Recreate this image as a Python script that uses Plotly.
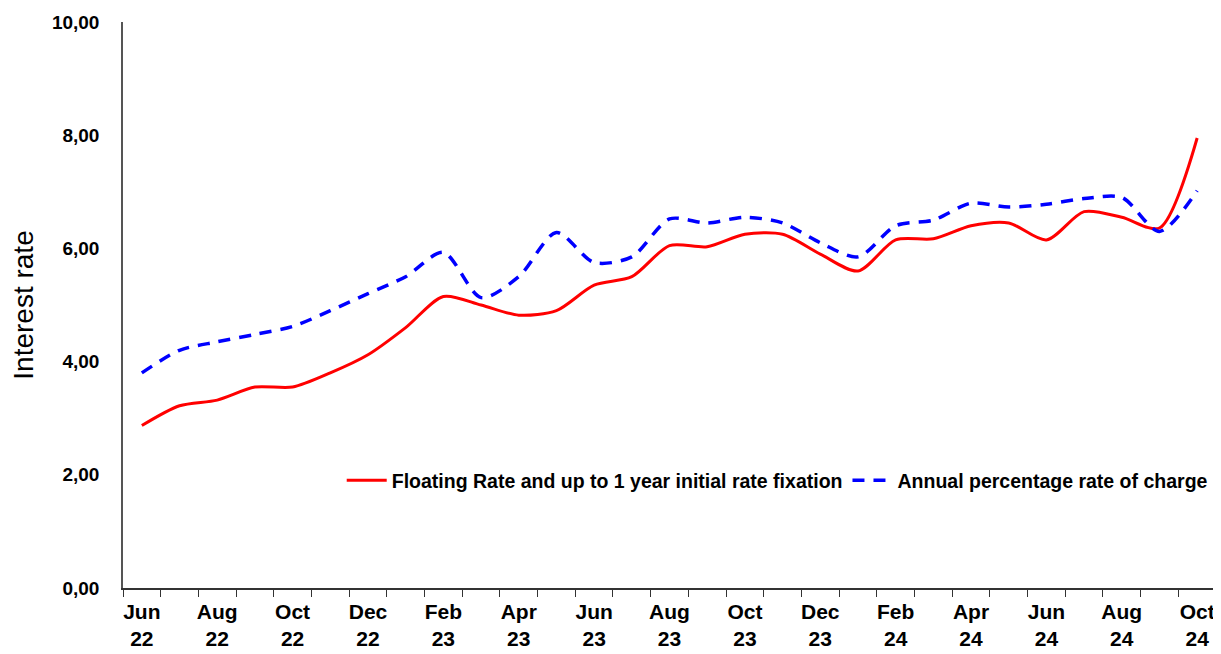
import plotly.graph_objects as go

# monthly observations, Jun 2022 - Oct 2024
months = ["Jun 22", "Jul 22", "Aug 22", "Sep 22", "Oct 22", "Nov 22", "Dec 22",
          "Jan 23", "Feb 23", "Mar 23", "Apr 23", "May 23", "Jun 23", "Jul 23",
          "Aug 23", "Sep 23", "Oct 23", "Nov 23", "Dec 23", "Jan 24", "Feb 24",
          "Mar 24", "Apr 24", "May 24", "Jun 24", "Jul 24", "Aug 24", "Sep 24",
          "Oct 24"]

floating_rate = [2.87, 3.22, 3.32, 3.55, 3.55, 3.80, 4.12, 4.60, 5.15, 5.00,
                 4.82, 4.90, 5.35, 5.50, 6.05, 6.03, 6.25, 6.25, 5.90, 5.60,
                 6.15, 6.17, 6.40, 6.45, 6.15, 6.65, 6.55, 6.36, 7.95]

apr_charge = [3.80, 4.20, 4.35, 4.48, 4.62, 4.90, 5.20, 5.50, 5.93, 5.13,
              5.50, 6.28, 5.75, 5.85, 6.52, 6.45, 6.55, 6.45, 6.10, 5.85,
              6.40, 6.50, 6.80, 6.73, 6.78, 6.88, 6.90, 6.30, 7.02]

tick_labels = [m.replace(" ", "<br>") if i % 2 == 0 else "" for i, m in enumerate(months)]

y_ticks = [0, 2, 4, 6, 8, 10]
y_tick_labels = ["0,00", "2,00", "4,00", "6,00", "8,00", "10,00"]

font = "Liberation Sans, Arial, sans-serif"

fig = go.Figure()
fig.add_trace(go.Scatter(
    x=months, y=floating_rate, mode="lines",
    name="<b>Floating Rate and up to 1 year initial rate fixation</b>",
    line=dict(color="#ff0000", width=3, shape="spline", smoothing=0.8),
))
fig.add_trace(go.Scatter(
    x=months, y=apr_charge, mode="lines",
    name="<b>Annual percentage rate of charge</b>",
    line=dict(color="#0000ff", width=3.5, dash="12px,9px", shape="spline", smoothing=0.8),
))

# page body adds an 8px margin, so the figure is sized to fit inside it
fig.update_layout(
    width=1213, height=646,
    margin=dict(l=115, r=5, t=14, b=66),
    paper_bgcolor="white", plot_bgcolor="white",
    font=dict(family=font, color="black"),
    showlegend=True,
    legend=dict(
        orientation="h", x=0.997, xanchor="right", y=0.19, yanchor="middle",
        font=dict(size=19.5, family=font), bgcolor="rgba(0,0,0,0)",
        itemwidth=40, tracegroupgap=0,
    ),
)

fig.update_xaxes(
    type="category", tickmode="array", tickvals=months, ticktext=tick_labels,
    tickson="boundaries", ticks="outside", ticklen=7, tickcolor="#333",
    showline=True, linecolor="#333", linewidth=1.5,
    showgrid=False, zeroline=False, tickangle=0, automargin=False,
    ticklabelstandoff=4,
    tickfont=dict(size=21, family=font, weight="bold"),
    range=[-0.5, len(months) - 0.5],
)
fig.update_yaxes(
    range=[0, 10], tickvals=y_ticks, ticktext=y_tick_labels,
    showline=True, linecolor="#555", linewidth=1.5,
    showgrid=False, zeroline=False, ticks="", automargin=False,
    ticklabelstandoff=18,
    tickfont=dict(size=19, family=font, weight="bold"),
    title=dict(text="Interest rate", font=dict(size=28, family=font), standoff=14),
)

fig.write_html("out.html")
